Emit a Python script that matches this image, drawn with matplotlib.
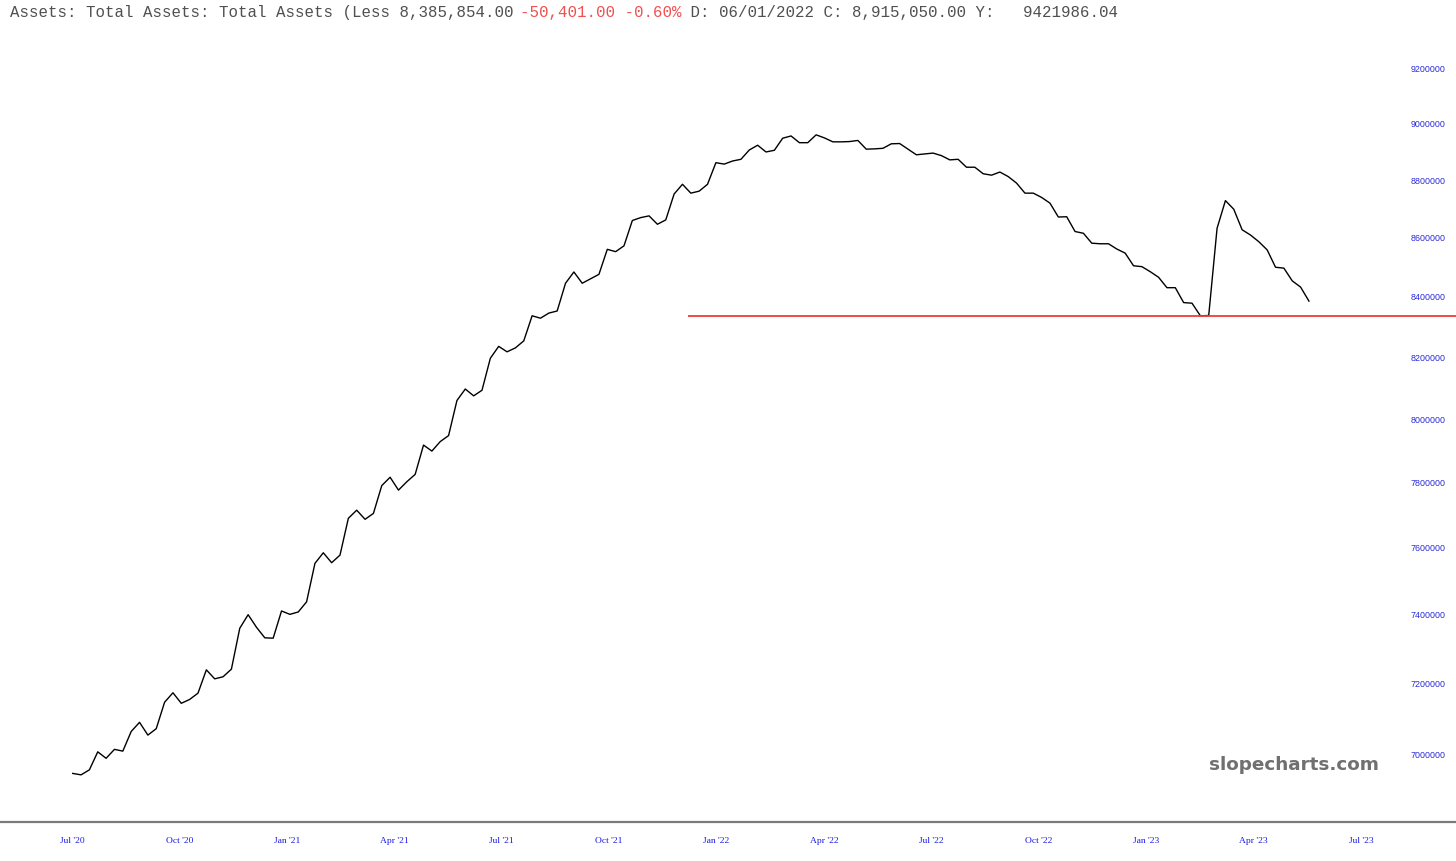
import numpy as np
import matplotlib
matplotlib.use('Agg')
import matplotlib.pyplot as plt
from matplotlib.ticker import NullLocator, FixedLocator

# weekly total assets (millions of dollars)
total_assets = [
    6946000, 6942000, 6956000, 7006000, 6988000, 7013000, 7008000, 7063000, 7089000, 7053000,
    7071000, 7146000, 7173000, 7143000, 7154000, 7172000, 7239000, 7213000, 7219000, 7241000,
    7360000, 7400000, 7363000, 7332000, 7331000, 7411000, 7401000, 7408000, 7438000, 7553000,
    7585000, 7555000, 7578000, 7690000, 7715000, 7687000, 7705000, 7791000, 7817000, 7777000,
    7803000, 7826000, 7918000, 7899000, 7929000, 7948000, 8060000, 8097000, 8075000, 8093000,
    8197000, 8236000, 8218000, 8231000, 8254000, 8337000, 8329000, 8346000, 8353000, 8446000,
    8484000, 8446000, 8461000, 8476000, 8561000, 8553000, 8573000, 8660000, 8670000, 8676000,
    8647000, 8662000, 8752000, 8786000, 8755000, 8762000, 8786000, 8862000, 8857000, 8868000,
    8874000, 8907000, 8924000, 8900000, 8906000, 8949000, 8957000, 8933000, 8933000, 8961000,
    8950000, 8936000, 8936000, 8937000, 8941000, 8910000, 8911000, 8913000, 8929000, 8930000,
    8910000, 8890000, 8893000, 8896000, 8887000, 8872000, 8874000, 8846000, 8846000, 8823000,
    8818000, 8829000, 8813000, 8790000, 8755000, 8755000, 8740000, 8720000, 8672000, 8673000,
    8622000, 8616000, 8582000, 8580000, 8580000, 8562000, 8548000, 8505000, 8502000, 8485000,
    8466000, 8431000, 8431000, 8381000, 8379000, 8337000, 8338000, 8633000, 8729000, 8699000,
    8628000, 8610000, 8587000, 8559000, 8500000, 8497000, 8454000, 8433000, 8386000,
]

quarter_labels = ["Jul '20", "Oct '20", "Jan '21", "Apr '21", "Jul '21", "Oct '21", "Jan '22",
                  "Apr '22", "Jul '22", "Oct '22", "Jan '23", "Apr '23", "Jul '23"]
y_ticks = [7000000, 7200000, 7400000, 7600000, 7800000, 8000000, 8200000,
           8400000, 8600000, 8800000, 9000000, 9200000]

support_level = 8336000   # red horizontal line
support_start = 73.7      # week index where the red line begins

# layout (pixels)
W, H = 1456, 861
px_week = 8.353           # horizontal distance between weekly points
x0_px = 72.7              # first point
ax_top, ax_bot = 40, 822
tick0_px, tick_step_px = 72, 107.42

fig = plt.figure(figsize=(W / 100, H / 100), dpi=100)
ax = fig.add_axes([0, 1 - ax_bot / H, 1, (ax_bot - ax_top) / H])

x = np.arange(len(total_assets))
ax.plot(x, total_assets, color='black', lw=1.0)
ax.hlines(support_level, support_start, 200, color='#f03c3c', lw=1.3)

ax.set_yscale('log')
# log mapping: pixel = 754 - 2507*ln(v/7e6)
ax.set_ylim(7e6 * np.exp((754 - ax_bot) / 2507), 7e6 * np.exp((754 - ax_top) / 2507))
ax.set_xlim(-x0_px / px_week, (W - x0_px) / px_week)

ax.yaxis.set_major_locator(FixedLocator(y_ticks))
ax.yaxis.set_minor_locator(NullLocator())
ax.set_yticklabels([str(v) for v in y_ticks])
ax.yaxis.tick_right()
ax.tick_params(axis='y', length=0, pad=-33, labelsize=6.4, labelcolor='#2a2ad8')
for lab in ax.get_yticklabels():
    lab.set_fontfamily('Liberation Sans')

xt = [(tick0_px + k * tick_step_px - x0_px) / px_week for k in range(len(quarter_labels))]
ax.set_xticks(xt)
ax.set_xticklabels(quarter_labels, fontfamily='Liberation Serif')
ax.xaxis.set_minor_locator(NullLocator())
ax.tick_params(axis='x', length=0, pad=11, labelsize=6.8, labelcolor='#1a1ae6')

for s in ['top', 'left', 'right']:
    ax.spines[s].set_visible(False)
ax.spines['bottom'].set_color('#7a7a7a')
ax.spines['bottom'].set_linewidth(1.6)

# header line in monospace
cw = 9.45
fs = cw / 0.6 * 0.72
head1 = "Assets: Total Assets: Total Assets (Less 8,385,854.00 "
head2 = "-50,401.00 -0.60%"
head3 = " D: 06/01/2022 C: 8,915,050.00 Y:   9421986.04"
yy = 1 - 12 / H
fig.text(10 / W, yy, head1, fontfamily='Liberation Mono', fontsize=fs, color='#505050', va='center')
fig.text((10 + len(head1) * cw) / W, yy, head2, fontfamily='Liberation Mono', fontsize=fs,
         color='#f05050', va='center')
fig.text((10 + (len(head1) + len(head2)) * cw) / W, yy, head3, fontfamily='Liberation Mono',
         fontsize=fs, color='#505050', va='center')

fig.text(1294 / W, 1 - 765 / H, 'slopecharts.com', fontfamily='DejaVu Sans', fontweight='bold',
         fontsize=13.2, color='#707070', ha='center', va='center')

fig.savefig('out.png', dpi=100)
